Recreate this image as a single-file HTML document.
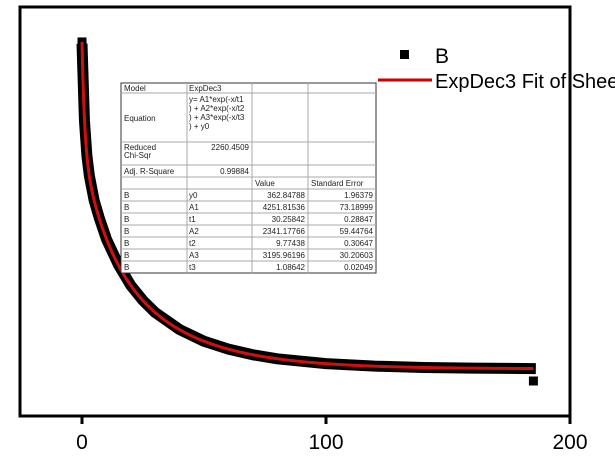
<!DOCTYPE html>
<html><head><meta charset="utf-8"><style>
body{margin:0;background:#fff;width:615px;height:458px;overflow:hidden}
svg{display:block}
text{font-family:"Liberation Sans",sans-serif}
.t{font-size:8px;fill:#222}
</style></head><body>
<svg id="c" width="615" height="458">
<g id="ticks"></g>
<g id="data"></g>
<g id="fit"></g>
<g>
<rect x="400" y="50" width="9" height="9" fill="#000"/>
<text x="435" y="63" font-size="21">B</text>
<line x1="378" y1="80" x2="432" y2="80" stroke="#c00" stroke-width="3"/>
<text x="435" y="88" font-size="20">ExpDec3 Fit of Sheet1 B</text>
</g>
<rect x="20" y="7" width="550" height="409" fill="none" stroke="#000" stroke-width="3"/>
<g id="table"></g>
</svg>
<script>
const xTicks=[0,100,200];
const dataX=[0,1,2,3,5,7,10,15,20,25,30,40,50,60,70,80,100,120,140,160,180,186];
const dataY=[10100,7800,6750,6150,5400,4900,4250,3470,2860,2410,2050,1540,1190,955,785,665,520,445,405,385,375,372];
const endX=[0,185];
const endY=[10151,0];
const paramNames=["y0","A1","t1","A2","t2","A3","t3"];
const paramVals=["362.84788","4251.81536","30.25842","2341.17766","9.77438","3195.96196","1.08642"];
const paramErrs=["1.96379","73.18999","0.28847","59.44764","0.30647","30.20603","0.02049"];
const P={y0:362.84788,A1:4251.81536,t1:30.25842,A2:2341.17766,t2:9.77438,A3:3195.96196,t3:1.08642};
const NS="http://www.w3.org/2000/svg";
const sx=v=>82+v*2.44, sy=v=>381-v*0.0334;
function mk(t,a,p){const e=document.createElementNS(NS,t);for(const k in a)e.setAttribute(k,a[k]);p.appendChild(e);return e;}
const tg=document.getElementById('ticks');
xTicks.forEach(v=>{
 const l=mk('line',{x1:sx(v),x2:sx(v),y1:416,y2:424,stroke:'#000','stroke-width':3},tg);
 
 
 const t=mk('text',{x:sx(v),y:449,'font-size':21,'text-anchor':'middle'},tg);t.textContent=v;
 
 
});
const dg=document.getElementById('data');
const band=mk('polyline',{points:dataX.map((x,i)=>sx(x)+','+sy(dataY[i])).join(' '),fill:'none',stroke:'#000','stroke-width':11,'stroke-linejoin':'round'},dg);


endX.forEach((x,i)=>{
 const r=mk('rect',{x:sx(x)-4.5,y:sy(endY[i])-4.5,width:9,height:9,fill:'#000'},dg);
 
 
});
const fg=document.getElementById('fit');let pts=[];
for(let x=0;x<=185;x+=0.25){const y=P.y0+P.A1*Math.exp(-x/P.t1)+P.A2*Math.exp(-x/P.t2)+P.A3*Math.exp(-x/P.t3);pts.push(sx(x)+','+sy(y));}
const fl=mk('polyline',{points:pts.join(' '),fill:'none',stroke:'#d01010','stroke-width':3},fg);


const tb=document.getElementById('table');
const cols=[121,187,252,308,376];
const rows=[83,93,142,165,177,189,201,213,225,237,249,261,273];
mk('rect',{x:121,y:83,width:255,height:190,fill:'#fff',stroke:'#333','stroke-width':1},tb);
rows.slice(1,-1).forEach(y=>mk('line',{x1:121,x2:376,y1:y,y2:y,stroke:'#aaa','stroke-width':1},tb));
cols.slice(1,-1).forEach(x=>mk('line',{x1:x,x2:x,y1:83,y2:273,stroke:'#aaa','stroke-width':1},tb));
function tx(x,y,s,anchor){const t=mk('text',{x:x,y:y,class:'t','text-anchor':anchor||'start'},tb);t.textContent=s;return t;}
tx(124,91,'Model');tx(189,91,'ExpDec3');
tx(124,121,'Equation');
['y= A1*exp(-x/t1',') + A2*exp(-x/t2',') + A3*exp(-x/t3',') + y0'].forEach((s,i)=>tx(189,102+i*9,s));
tx(124,150,'Reduced');tx(124,158,'Chi-Sqr');tx(249,150,'2260.4509','end');
tx(124,174,'Adj. R-Square');tx(249,174,'0.99884','end');
tx(255,186,'Value');tx(311,186,'Standard Error');
paramNames.forEach((n,i)=>{const y=198+i*12;tx(124,y,'B');tx(189,y,n);tx(305,y,paramVals[i],'end');tx(373,y,paramErrs[i],'end');});
</script>
</body></html>
